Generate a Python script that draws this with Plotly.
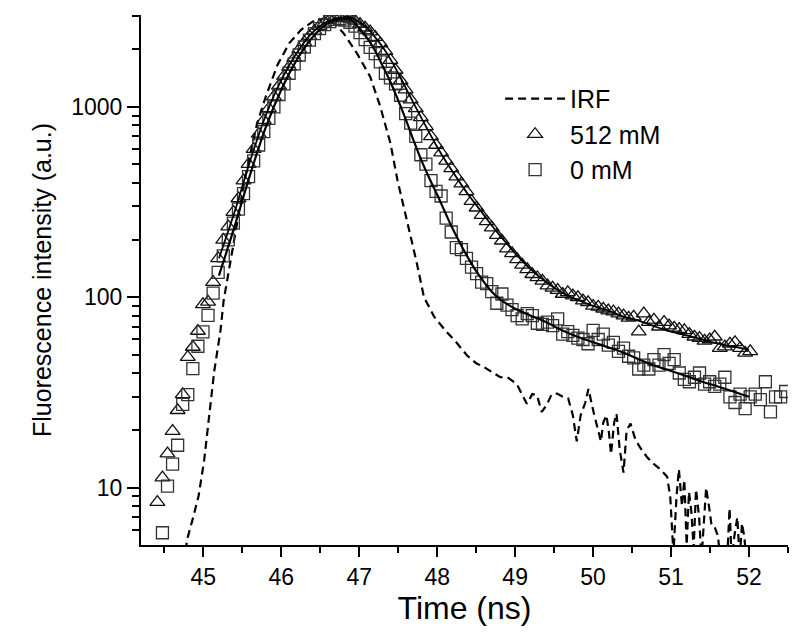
import plotly.graph_objects as go

# ---- data ----
time_ns = [44.41, 44.475, 44.54, 44.605, 44.67, 44.735, 44.80, 44.865, 44.93, 44.995,
           45.06, 45.125, 45.19, 45.255, 45.32, 45.385, 45.45, 45.515, 45.58, 45.645,
           45.71, 45.775, 45.84, 45.905, 45.97, 46.035, 46.10, 46.165, 46.23, 46.295,
           46.36, 46.425, 46.49, 46.555, 46.62, 46.685, 46.75, 46.815, 46.88, 46.945,
           47.01, 47.075, 47.14, 47.205, 47.27, 47.335, 47.40, 47.465, 47.53, 47.595,
           47.66, 47.725, 47.79, 47.855, 47.92, 47.985, 48.05, 48.115, 48.18, 48.245,
           48.31, 48.375, 48.44, 48.505, 48.57, 48.635, 48.70, 48.765, 48.83, 48.895,
           48.96, 49.025, 49.09, 49.155, 49.22, 49.285, 49.35, 49.415, 49.48, 49.545,
           49.61, 49.675, 49.74, 49.805, 49.87, 49.935, 50.00, 50.065, 50.13, 50.195,
           50.26, 50.325, 50.39, 50.455, 50.52, 50.585, 50.65, 50.715, 50.78, 50.845,
           50.91, 50.975, 51.04, 51.105, 51.17, 51.235, 51.30, 51.365, 51.43, 51.495,
           51.56, 51.625, 51.69, 51.755, 51.82, 51.885, 51.95, 52.015, 52.08, 52.145,
           52.21, 52.275, 52.34, 52.405, 52.47]

# 512 mM (triangles), starting at time_ns[0]
counts_512 = [8.4, 11.3, 15.1, 19.8, 25.5, 30.9, 48.5, 54.8, 66.5, 91.8, 94.5, 120,
              160, 200, 235, 280, 330, 410, 500, 600, 720, 850, 980, 1130, 1290, 1450,
              1620, 1800, 2000, 2180, 2350, 2500, 2650, 2760, 2860, 2920, 2950, 2940,
              2900, 2830, 2720,
              2600, 2480, 2320, 2150, 1960, 1760, 1560, 1370, 1230, 1090, 980, 880, 790,
              700, 630, 575, 520, 475, 430, 395, 360, 320, 295, 270, 250, 232, 212, 198,
              180, 170, 158, 148, 140, 132, 127, 122, 115, 112, 109, 104, 106, 102, 100,
              96, 94, 90, 89, 87, 85, 84, 82, 80, 78, 79, 66, 82, 74, 76, 70, 74, 71, 69,
              68, 67, 64, 62, 61, 59, 60, 62, 54, 55, 57, 58, 54, 51, 52]

# 0 mM (squares), starting at time_ns[1]
counts_0 = [5.8, 10.2, 13.3, 16.7, 27.4, 30.8, 42.2, 55.3, 65.8, 80.4, 105,
            135, 165, 200, 245, 290, 350, 430, 520, 630, 740, 870, 1000, 1160, 1320,
            1500, 1680, 1870, 2060, 2240, 2420, 2570, 2700, 2800, 2880, 2900, 2850, 2780,
            2650, 2450, 2250, 2050, 1900, 1720, 1500, 1420, 1320, 1150, 920, 820, 700,
            560, 500, 410, 360, 340, 260, 220, 182, 178, 160, 144, 133, 120, 118, 107,
            93, 104, 91, 86, 80, 77, 82, 80, 73, 72, 74, 71, 77, 64, 66, 63, 61, 60, 57,
            67, 60, 64, 56, 58, 52, 54, 49, 48, 42, 44, 42, 47, 44, 50, 45, 47, 40, 37,
            36, 38, 40, 35, 36, 34, 35, 38, 30, 28, 31, 26, 30, 31, 29, 36, 25, 30, 30, 32]

# instrument response function (dashed)
irf_time = [44.74, 44.80, 44.87, 44.94, 45.01, 45.07, 45.14, 45.22, 45.26, 45.35, 45.44,
            45.52, 45.60, 45.69, 45.80, 45.95, 46.10, 46.25, 46.40, 46.52, 46.59, 46.70,
            46.80, 46.97, 47.14, 47.27, 47.40, 47.49, 47.61, 47.74, 47.83, 47.96, 48.13,
            48.23, 48.38, 48.50, 48.60, 48.81, 48.90, 49.02, 49.15, 49.22, 49.28, 49.34,
            49.40, 49.47, 49.54, 49.61, 49.68, 49.74, 49.79, 49.84, 49.90, 49.94, 50.01,
            50.07, 50.10, 50.13, 50.17, 50.20, 50.23, 50.27, 50.30, 50.34, 50.39, 50.43,
            50.48, 50.54, 50.60, 50.69, 50.77, 50.86, 50.95, 50.99, 51.03, 51.07, 51.10,
            51.14, 51.17, 51.20, 51.23, 51.26, 51.29, 51.32, 51.36, 51.39, 51.42, 51.45,
            51.49, 51.52, 51.56, 51.60, 51.64, 51.68, 51.72, 51.75, 51.78, 51.81, 51.85,
            51.88, 51.91, 51.94, 51.97]
irf_counts = [4.0, 5.5, 7.0, 9.1, 13.9, 22.6, 41, 67, 96, 156, 260,
              395, 560, 818, 1129, 1656, 2153, 2530, 2797, 2900, 2917, 2685,
              2430, 1910, 1439, 1000, 643, 412, 254, 150, 100, 79, 65,
              59, 49.6, 45, 43, 38, 38, 35, 27.6, 31, 30.6, 25,
              27, 31, 31.2, 30, 29.4, 24, 17.5, 24, 28, 33, 24.5,
              20, 17.5, 22, 24, 20, 15, 22, 24.5, 16, 12, 20,
              21.7, 18, 16.3, 14.5, 13.4, 12.5, 11.4, 8.9, 4.5, 9, 12.5,
              8, 11, 5, 9.5, 7.5, 4.8, 9.8, 7, 4.2, 6.5, 10,
              7.8, 6.3, 6.2, 5.6, 4.0, 3.8, 4.2, 7.8, 4.0, 5.5, 7.0,
              4.2, 6.5, 5.5, 4.0]

# fitted curves (solid)
fit_time = [45.2, 45.4, 45.6, 45.8, 46.0, 46.2, 46.4, 46.6, 46.8, 46.9, 47.0, 47.1,
            47.2, 47.3, 47.4, 47.5, 47.6, 47.7, 47.8, 47.9, 48.0, 48.1, 48.2, 48.3,
            48.4, 48.5, 48.6, 48.7, 48.8, 48.9, 49.0, 49.2, 49.4, 49.6, 49.8, 50.0,
            50.2, 50.4, 50.6, 50.8, 51.0, 51.2, 51.4, 51.6, 51.8, 52.0]
fit_512 = [160, 280, 520, 900, 1380, 1920, 2450, 2820, 2960, 2930, 2780, 2600,
           2330, 2060, 1780, 1500, 1250, 1040, 870, 730, 615, 525, 455, 395,
           345, 305, 270, 238, 212, 190, 170, 140, 120, 106, 97, 90,
           85, 79, 75, 70, 66, 63, 60, 57, 55, 53]
fit_0 = [130, 235, 440, 780, 1230, 1770, 2320, 2750, 2900, 2850, 2580, 2300,
         1980, 1640, 1350, 1080, 850, 660, 520, 420, 345, 280, 228, 190,
         160, 137, 120, 107, 98, 92, 87, 80, 74, 67, 62, 58,
         54.5, 51, 47, 43.5, 41, 38.5, 36, 34, 32, 30]

x_ticks = [45, 46, 47, 48, 49, 50, 51, 52]
y_ticks = [10, 100, 1000]
y_tick_text = ["10", "100", "1000"]
y_minor = [6, 7, 8, 9, 20, 30, 40, 50, 60, 70, 80, 90,
           200, 300, 400, 500, 600, 700, 800, 900, 2000, 3000]

FONT = "Liberation Sans, Arial, sans-serif"

fig = go.Figure()

fig.add_trace(go.Scatter(
    x=irf_time, y=irf_counts, mode="lines", name="IRF",
    line=dict(color="black", width=2.2, dash="8px,5px"),
))
fig.add_trace(go.Scatter(
    x=time_ns[:len(counts_512)], y=counts_512, mode="markers", name="512 mM",
    marker=dict(symbol="triangle-up-open", size=13, color="#111",
                line=dict(width=1.3, color="#111")),
))
fig.add_trace(go.Scatter(
    x=time_ns[1:1 + len(counts_0)], y=counts_0, mode="markers", name="0 mM",
    marker=dict(symbol="square-open", size=12, color="#333",
                line=dict(width=1.3, color="#333")),
))
fig.add_trace(go.Scatter(
    x=fit_time, y=fit_512, mode="lines", showlegend=False,
    line=dict(color="black", width=1.8, shape="spline"),
))
fig.add_trace(go.Scatter(
    x=fit_time, y=fit_0, mode="lines", showlegend=False,
    line=dict(color="black", width=2.2, shape="spline"),
))

fig.update_layout(
    width=800, height=633,
    margin=dict(l=133, r=20, t=7, b=96, autoexpand=False),
    paper_bgcolor="white", plot_bgcolor="white",
    font=dict(family=FONT, color="black", size=23),
    showlegend=True,
    legend=dict(
        x=0.555, y=0.885, xanchor="left", yanchor="top",
        bgcolor="rgba(0,0,0,0)", borderwidth=0,
        font=dict(size=25, family=FONT), itemwidth=60,
        tracegroupgap=0,
    ),
    xaxis=dict(
        range=[44.2, 52.5], showgrid=False, zeroline=False,
        showline=True, linecolor="black", linewidth=2,
        ticks="outside", ticklen=10, tickwidth=2, tickcolor="black",
        tickmode="array", tickvals=x_ticks,
        tickfont=dict(size=23, family=FONT),
        minor=dict(ticks="outside", ticklen=6, tickwidth=1.8, tickcolor="black",
                   dtick=0.5, tick0=0, showgrid=False),
        title=dict(text="Time (ns)", font=dict(size=32, family=FONT), standoff=8),
    ),
    yaxis=dict(
        type="log", range=[0.699, 3.482], showgrid=False, zeroline=False,
        showline=True, linecolor="black", linewidth=2,
        ticks="outside", ticklen=12, tickwidth=2, tickcolor="black",
        tickmode="array", tickvals=y_ticks, ticktext=y_tick_text,
        tickfont=dict(size=23, family=FONT),
        minor=dict(ticks="outside", ticklen=7, tickwidth=1.8, tickcolor="black",
                   tickvals=y_minor, showgrid=False),
        title=dict(text="Fluorescence intensity (a.u.)", font=dict(size=25, family=FONT),
                   standoff=12),
    ),
)

fig.write_html("out.html")
